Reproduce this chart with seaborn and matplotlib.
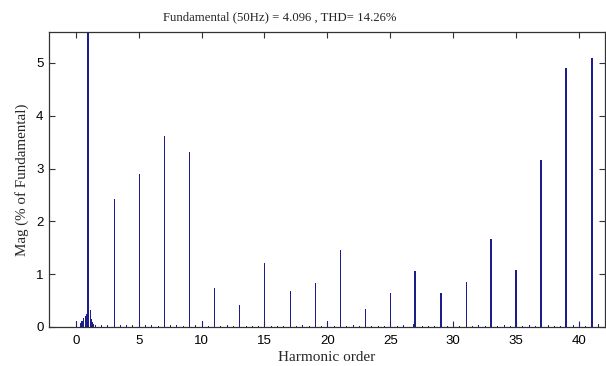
import numpy as np
import pandas as pd
import matplotlib
matplotlib.use("Agg")
import matplotlib.pyplot as plt
import seaborn as sns

# ---------------- data ----------------
# odd harmonics (order, magnitude in % of fundamental)
harm_orders = [3, 5, 7, 9, 11, 13, 15, 17, 19, 21, 23, 25, 31]
harm_mags = [2.42, 2.90, 3.62, 3.32, 0.74, 0.42, 1.21, 0.68, 0.83, 1.46, 0.34, 0.64, 0.85]

# stronger high-order harmonics (including the fundamental, clipped at the top)
strong_orders = [1, 27, 29, 33, 35, 37, 39, 41]
strong_mags = [100.0, 1.05, 0.64, 1.67, 1.08, 3.16, 4.90, 5.09]

# spectral leakage around the fundamental
cluster_orders = [0.0, 0.3, 0.4, 0.5, 0.6, 0.7, 0.8, 0.9, 1.1, 1.2, 1.3, 1.4]
cluster_mags = [0.12, 0.08, 0.11, 0.11, 0.16, 0.20, 0.24, 0.37, 0.32, 0.15, 0.09, 0.05]

# interharmonic / even-order noise floor
noise_orders = [1.5, 2, 2.5, 3.5, 4, 4.5, 5.5, 6, 6.5, 7.5, 8, 8.5, 9.5, 10, 10.5,
                11.5, 12, 12.5, 13.5, 14, 14.5, 15.5, 16, 16.5, 17.5, 18, 18.5,
                19.5, 20, 20.5, 21.5, 22, 22.5, 23.5, 24, 24.5, 25.5, 26, 26.8,
                27.5, 28, 28.5, 29.5, 30, 30.5, 31.5, 32, 32.5, 33.5, 34, 34.5,
                35.5, 36, 36.5, 37.5, 38, 38.5, 39.5, 40, 40.5, 41.5]
noise_mags = [0.04, 0.04, 0.03, 0.03, 0.04, 0.03, 0.03, 0.03, 0.02, 0.03, 0.03, 0.02,
              0.03, 0.11, 0.02, 0.02, 0.03, 0.02, 0.02, 0.02, 0.02, 0.02, 0.02, 0.02,
              0.02, 0.03, 0.02, 0.02, 0.11, 0.02, 0.02, 0.03, 0.02, 0.02, 0.02, 0.02,
              0.02, 0.03, 0.06, 0.02, 0.02, 0.02, 0.02, 0.10, 0.02, 0.02, 0.03, 0.02,
              0.02, 0.04, 0.02, 0.02, 0.03, 0.02, 0.04, 0.02, 0.02, 0.04, 0.07, 0.02,
              0.05]

x_ticks = [0, 5, 10, 15, 20, 25, 30, 35, 40]
y_ticks = [0, 1, 2, 3, 4, 5]
title_text = "Fundamental (50Hz) = 4.096 , THD= 14.26%"
x_label = "Harmonic order"
y_label = "Mag (% of Fundamental)"

# ---------------- plot ----------------
sns.set_theme(style="white")
plt.rcParams["font.family"] = ["Liberation Sans", "DejaVu Sans"]

bar_color = "#1c1c8a"

fig = plt.figure(figsize=(6.06, 3.66), dpi=100)
ax = fig.add_axes([0.081, 0.107, 0.917, 0.806])

thin = pd.DataFrame({
    "order": cluster_orders + noise_orders + harm_orders,
    "mag": cluster_mags + noise_mags + harm_mags,
})
strong = pd.DataFrame({"order": strong_orders, "mag": strong_mags})

sns.barplot(data=thin, x="order", y="mag", native_scale=True, width=0.001,
            color=bar_color, saturation=1, linewidth=0.72, edgecolor=bar_color,
            errorbar=None, ax=ax)
sns.barplot(data=strong, x="order", y="mag", native_scale=True, width=0.0001,
            color=bar_color, saturation=1, linewidth=1.44, edgecolor=bar_color,
            errorbar=None, ax=ax)
for p in ax.patches:
    p.set_antialiased(False)
    p.set_joinstyle("miter")
    p.set_capstyle("butt")

ax.set_xlim(-2.12, 42.05)
ax.set_ylim(0, 5.59)
ax.set_xticks(x_ticks)
ax.set_xticklabels([str(t) for t in x_ticks])
ax.set_yticks(y_ticks)
ax.set_yticklabels([str(t) for t in y_ticks])

ax.tick_params(axis="both", which="both", direction="in", length=4, width=0.8,
               colors="#333333", labelcolor="black", labelsize=9.5,
               top=True, right=True, bottom=True, left=True)
ax.tick_params(axis="x", pad=6)
ax.tick_params(axis="y", pad=4)
for s in ax.spines.values():
    s.set_visible(True)
    s.set_color("#333333")
    s.set_linewidth(0.9)

serif = ["Liberation Serif", "DejaVu Serif"]
fig.text(280 / 606, 1 - 17 / 366, title_text, family=serif, fontsize=9.2,
         ha="center", va="center")
ax.set_xlabel(x_label, family=serif, fontsize=11, labelpad=3)
ax.set_ylabel(y_label, family=serif, fontsize=10.8, labelpad=5)

fig.savefig("out.png", dpi=100, facecolor="white")
